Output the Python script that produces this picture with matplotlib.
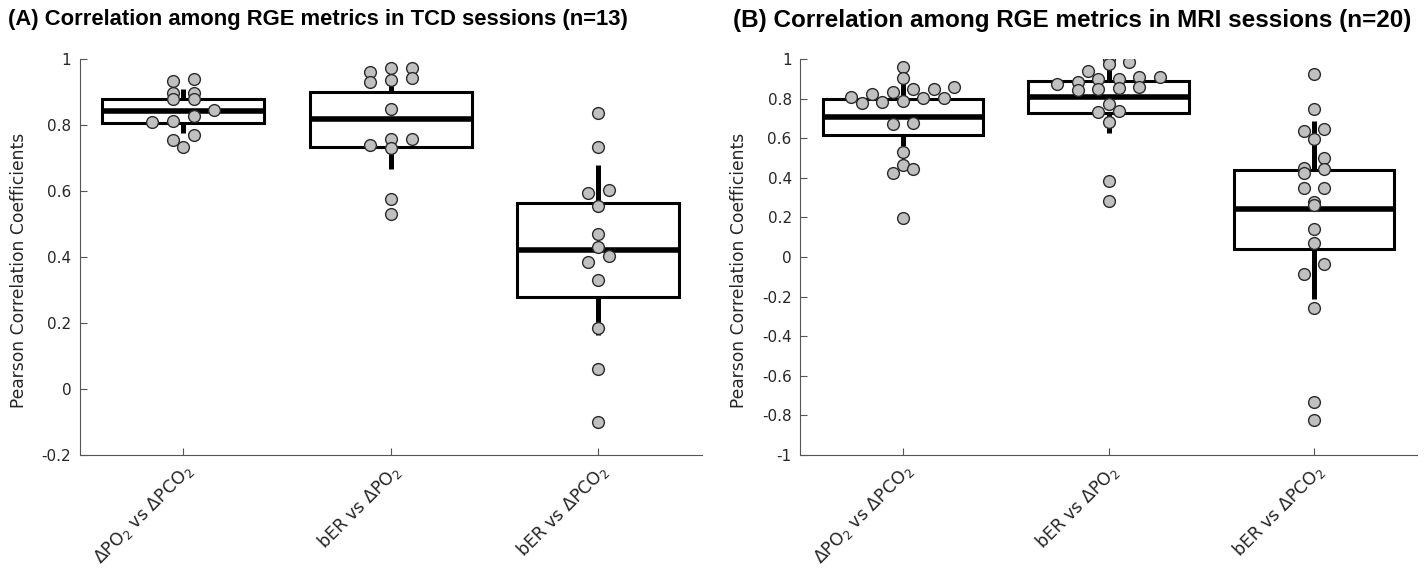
import numpy as np
import matplotlib
matplotlib.use("Agg")
import matplotlib.pyplot as plt
from matplotlib.ticker import FuncFormatter

plt.rcParams['axes.unicode_minus'] = False
plt.rcParams['font.family'] = ['DejaVu Sans']
plt.rcParams['mathtext.fontset'] = 'dejavusans'

# ---------------- data ----------------
categories = [r'$\Delta$PO$_2$ vs $\Delta$PCO$_2$',
              r'bER vs $\Delta$PO$_2$',
              r'bER vs $\Delta$PCO$_2$']

title_a = "(A) Correlation among RGE metrics in TCD sessions (n=13)"
title_b = "(B) Correlation among RGE metrics in MRI sessions (n=20)"
ylabel = "Pearson Correlation Coefficients"

# TCD sessions (n=13)
tcd_po2_vs_pco2 = [0.939, 0.934, 0.898, 0.896, 0.879, 0.879, 0.845, 0.827,
                   0.810, 0.812, 0.770, 0.755, 0.732]
tcd_ber_vs_po2 = [0.974, 0.972, 0.962, 0.941, 0.936, 0.931, 0.848, 0.757,
                  0.757, 0.739, 0.729, 0.575, 0.530]
tcd_ber_vs_pco2 = [0.836, 0.734, 0.603, 0.595, 0.555, 0.470, 0.431, 0.403,
                   0.386, 0.330, 0.185, 0.060, -0.100]
tcd_q1 = [0.805, 0.732, 0.279]
tcd_median = [0.842, 0.817, 0.421]
tcd_q3 = [0.878, 0.899, 0.564]
tcd_whislo = [0.775, 0.666, 0.164]
tcd_whishi = [0.908, 0.965, 0.679]

# MRI sessions (n=20)
mri_po2_vs_pco2 = [0.961, 0.902, 0.857, 0.848, 0.848, 0.835, 0.822, 0.810,
                   0.805, 0.801, 0.788, 0.785, 0.779, 0.675, 0.672, 0.532,
                   0.465, 0.443, 0.423, 0.195]
mri_ber_vs_po2 = [0.998, 0.986, 0.975, 0.941, 0.911, 0.907, 0.899, 0.897,
                  0.882, 0.874, 0.860, 0.852, 0.848, 0.843, 0.773, 0.737,
                  0.734, 0.683, 0.384, 0.283]
mri_ber_vs_pco2 = [0.924, 0.746, 0.646, 0.636, 0.594, 0.500, 0.451, 0.444,
                   0.423, 0.347, 0.347, 0.276, 0.263, 0.141, 0.069, -0.037,
                   -0.087, -0.256, -0.734, -0.823]
mri_q1 = [0.616, 0.729, 0.040]
mri_median = [0.705, 0.810, 0.241]
mri_q3 = [0.796, 0.890, 0.439]
mri_whislo = [0.560, 0.628, -0.214]
mri_whishi = [0.902, 0.990, 0.688]


# ---------------- helpers ----------------
def spread_offsets(vals, bw, sp):
    """Binned horizontal spread of points (plotSpread-like)."""
    vals = np.asarray(vals, dtype=float)
    bins = np.round(vals / bw).astype(int)
    offs = np.zeros(len(vals))
    for b in np.unique(bins):
        idx = np.where(bins == b)[0]
        idx = idx[np.argsort(vals[idx])]
        n = len(idx)
        offs[idx] = (np.arange(n) - (n - 1) / 2) * sp
    return offs


def fmt(v, _):
    v = round(v, 2)
    if abs(v) < 1e-9:
        v = 0.0
    return f'{v:g}'


def draw_panel(ax, groups, q1, med, q3, wlo, whi, ylim, yticks, bw, sp, lab_x):
    positions = np.arange(1, len(groups) + 1)
    stats = []
    for i in range(len(groups)):
        stats.append(dict(q1=q1[i], med=med[i], q3=q3[i],
                          whislo=wlo[i], whishi=whi[i], fliers=[]))
    ax.bxp(stats, positions=positions, widths=0.78, showcaps=False,
           showfliers=False, patch_artist=True,
           boxprops=dict(facecolor='white', edgecolor='black', linewidth=2.2),
           medianprops=dict(color='black', linewidth=4.0, solid_capstyle='butt'),
           whiskerprops=dict(color='black', linewidth=3.6, solid_capstyle='butt'),
           zorder=2)
    for p, vals in zip(positions, groups):
        offs = spread_offsets(vals, bw, sp)
        ax.scatter(p + offs, vals, s=72, facecolor='#c0c0c0',
                   edgecolor='#2a2a2a', linewidth=1.0, zorder=3)
    ax.set_xlim(0.5, len(groups) + 0.5)
    ax.set_ylim(*ylim)
    ax.set_yticks(yticks)
    ax.yaxis.set_major_formatter(FuncFormatter(fmt))
    ax.set_xticks(positions)
    ax.set_xticklabels(categories, rotation=45, ha='right',
                       rotation_mode='anchor', fontsize=12.5)
    ax.tick_params(direction='in', length=5, width=0.8, colors='#555555',
                   labelcolor='#262626', pad=6)
    ax.tick_params(axis='x', pad=4)
    ax.tick_params(axis='y', labelsize=11)
    for s in ['top', 'right']:
        ax.spines[s].set_visible(False)
    for s in ['left', 'bottom']:
        ax.spines[s].set_color('#555555')
        ax.spines[s].set_linewidth(0.8)
    ax.set_ylabel(ylabel, fontsize=12.3, color='#262626')
    ax.yaxis.set_label_coords(lab_x, 0.465)


W, H = 1427, 573
fig = plt.figure(figsize=(W / 100, H / 100), dpi=100)
axA = fig.add_axes([79.5 / W, 118 / H, (702 - 79.5) / W, 396 / H])
axB = fig.add_axes([800 / W, 118 / H, (1417 - 800) / W, 396 / H])

draw_panel(axA, [tcd_po2_vs_pco2, tcd_ber_vs_po2, tcd_ber_vs_pco2],
           tcd_q1, tcd_median, tcd_q3, tcd_whislo, tcd_whishi,
           (-0.2, 1.0), np.round(np.arange(-0.2, 1.01, 0.2), 2), 0.036, 0.1,
           -0.083)
draw_panel(axB, [mri_po2_vs_pco2, mri_ber_vs_po2, mri_ber_vs_pco2],
           mri_q1, mri_median, mri_q3, mri_whislo, mri_whishi,
           (-1.0, 1.0), np.round(np.arange(-1.0, 1.01, 0.2), 2), 0.06, 0.1,
           -0.084)

fig.text(8 / W, 1 - 20 / H, title_a, fontsize=15.8, fontweight='bold',
         family='Liberation Sans', va='center', ha='left')
fig.text(733 / W, 1 - 20 / H, title_b, fontsize=17.5, fontweight='bold',
         family='Liberation Sans', va='center', ha='left')

fig.savefig('out.png', dpi=100, facecolor='white')
